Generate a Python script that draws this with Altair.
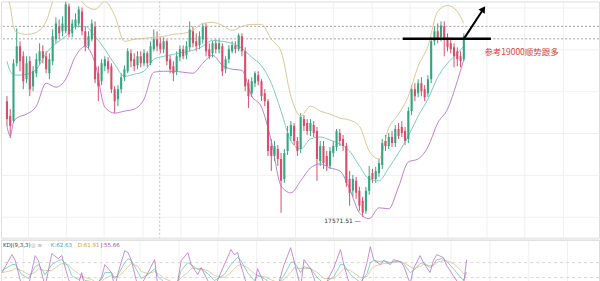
import altair as alt
import pandas as pd

# ---------------- data ----------------
open_ = [18500, 18380, 18340, 18804, 18940, 18860, 18676, 18820, 18620, 18724,
         18820, 18900, 18860, 18724, 18820, 18996, 19100, 19060, 19060, 19260,
         19044, 19100, 19124, 19220, 19060, 18940, 18996, 19100, 18724, 18660,
         18780, 18820, 18780, 18596, 18516, 18596, 18692, 18740, 18884, 18836,
         18788, 18860, 18804, 18884, 18804, 18916, 18996, 18964, 18916, 18980,
         18836, 18780, 18740, 18852, 18916, 18868, 18932, 19060, 18980, 18948,
         18996, 19100, 18916, 18884, 18964, 18916, 18940, 18756, 18836, 18900,
         18948, 18916, 19020, 18900, 18644, 18564, 18644, 18708, 18660, 18564,
         18500, 18140, 18060, 18116, 18036, 17876, 18100, 18220, 18300, 18180,
         18116, 18356, 18324, 18260, 18308, 18260, 18020, 18140, 18060, 17980,
         18084, 18132, 18244, 18196, 18140, 17876, 17780, 17860, 17780, 17700,
         17620, 17780, 17924, 17876, 17924, 17988, 18180, 18140, 18212, 18164,
         18276, 18292, 18260, 18196, 18420, 18596, 18564, 18644, 18596, 18564,
         18676, 18980, 19060, 19012, 19100, 19012, 18964, 18932, 18900, 18860,
         18836]
close = [18356, 18300, 18804, 18940, 18820, 18660, 18804, 18596, 18740, 18836,
         18900, 18844, 18756, 18836, 19020, 19124, 19044, 19124, 19276, 19036,
         19124, 19156, 19236, 19060, 18940, 19020, 19124, 18676, 18620, 18804,
         18836, 18756, 18596, 18500, 18596, 18692, 18756, 18900, 18820, 18780,
         18860, 18804, 18884, 18804, 18940, 18996, 18940, 18916, 18980, 18820,
         18756, 18724, 18860, 18916, 18860, 18940, 19076, 18964, 18940, 19020,
         19100, 18900, 18860, 18964, 18916, 18964, 18740, 18836, 18916, 18948,
         18916, 19028, 18900, 18620, 18540, 18660, 18724, 18660, 18540, 18500,
         18100, 18060, 18140, 18036, 17860, 18084, 18244, 18308, 18180, 18100,
         18372, 18300, 18260, 18324, 18244, 18036, 18140, 18004, 17980, 18100,
         18140, 18260, 18180, 18140, 17844, 17764, 17876, 17764, 17660, 17604,
         17780, 17900, 17876, 17940, 18004, 18164, 18140, 18212, 18164, 18276,
         18220, 18244, 18180, 18420, 18596, 18540, 18644, 18580, 18532, 18676,
         18980, 19060, 18996, 19108, 18996, 18932, 18916, 18860, 18836, 18820,
         19020]
high = [18540, 18436, 18836, 19084, 18980, 18900, 18860, 18860, 18780, 18884,
        18964, 18948, 18900, 18884, 19076, 19172, 19156, 19180, 19300, 19284,
        19156, 19204, 19260, 19252, 19100, 19060, 19156, 19140, 18780, 18836,
        18860, 18852, 18804, 18620, 18628, 18724, 18788, 18924, 18916, 18884,
        18900, 18900, 18916, 18900, 18980, 19076, 19060, 19012, 19012, 18996,
        18868, 18820, 18900, 18948, 18948, 18980, 19140, 19100, 19044, 19060,
        19124, 19124, 18964, 18980, 18996, 18996, 18964, 18860, 18948, 18980,
        18980, 19044, 19044, 18932, 18676, 18692, 18740, 18740, 18676, 18596,
        18516, 18196, 18180, 18148, 18084, 18116, 18300, 18340, 18324, 18212,
        18404, 18388, 18356, 18356, 18340, 18292, 18180, 18180, 18100, 18132,
        18180, 18276, 18276, 18228, 18164, 17940, 17908, 17892, 17812, 17732,
        17812, 17980, 17956, 17972, 18036, 18196, 18228, 18244, 18260, 18308,
        18324, 18340, 18292, 18452, 18628, 18644, 18676, 18692, 18628, 18708,
        19012, 19100, 19124, 19140, 19140, 19044, 19012, 18964, 18932, 18900,
        19044]
low = [18300, 18204, 18324, 18780, 18740, 18596, 18644, 18540, 18580, 18692,
       18788, 18804, 18724, 18676, 18788, 18964, 18996, 19020, 19044, 19012,
       19012, 19076, 19092, 19028, 18900, 18916, 18980, 18644, 18500, 18628,
       18740, 18724, 18564, 18404, 18460, 18564, 18660, 18724, 18772, 18740,
       18756, 18772, 18780, 18772, 18788, 18900, 18900, 18884, 18884, 18788,
       18724, 18660, 18708, 18820, 18836, 18836, 18900, 18932, 18900, 18916,
       18964, 18860, 18836, 18852, 18884, 18884, 18700, 18724, 18804, 18884,
       18884, 18900, 18860, 18580, 18444, 18532, 18612, 18628, 18500, 18460,
       18060, 17940, 18020, 17980, 17604, 17844, 18068, 18180, 18148, 18060,
       18084, 18260, 18228, 18220, 18212, 17860, 17980, 17956, 17940, 17956,
       18052, 18100, 18140, 18100, 17812, 17660, 17732, 17716, 17620, 17571.51,
       17596, 17748, 17844, 17844, 17892, 17956, 18100, 18116, 18132, 18132,
       18196, 18212, 18148, 18164, 18388, 18500, 18532, 18540, 18500, 18532,
       18644, 18948, 18964, 18980, 18860, 18900, 18884, 18772, 18780, 18772,
       18820]

band_idx = [0, 1, 2, 3, 6, 9, 12, 15, 18, 21, 24, 27, 30, 33, 36, 39, 42, 45, 48, 51,
            54, 57, 60, 63, 66, 69, 72, 75, 78, 81, 84, 87, 90, 93, 96, 99, 102, 105, 108, 111,
            114, 117, 120, 123, 126, 129, 132, 135, 138, 140]
band_upper = [19340, 19260, 19100, 19052, 19036, 19052, 19140, 19364, 19420, 19380,
              19268, 19236, 19300, 19188, 18980, 18996, 19004, 19012, 19020, 19036,
              19044, 19068, 19124, 19132, 19108, 19068, 19100, 19116, 19116, 18996,
              18900, 18540, 18380, 18460, 18420, 18396, 18364, 18348, 18300, 18100,
              18036, 18284, 18396, 18540, 18780, 18940, 19220, 19268, 19220, 19124]
band_mid = [18820, 18740, 18716, 18708, 18716, 18756, 18884, 18964, 19020, 19100,
            19100, 19020, 18916, 18796, 18700, 18716, 18740, 18836, 18860, 18876,
            18892, 18908, 18940, 18988, 18980, 18964, 18924, 18852, 18784, 18644,
            18420, 18180, 18116, 18196, 18212, 18188, 18156, 18100, 17980, 17876,
            17860, 17964, 18084, 18220, 18380, 18516, 18692, 18804, 18884, 18940]
band_lower = [18300, 18220, 18332, 18364, 18396, 18460, 18644, 18612, 18676, 18860,
              18940, 18804, 18452, 18404, 18420, 18436, 18516, 18732, 18740, 18740,
              18732, 18724, 18804, 18868, 18788, 18756, 18748, 18540, 18452, 18180,
              17820, 17764, 17860, 17964, 17996, 17964, 17940, 17796, 17604, 17556,
              17644, 17636, 17812, 18012, 18036, 18132, 18324, 18436, 18660, 18836]

kdj_idx = [0, 3, 4, 6, 8, 10, 11, 13, 15, 17, 18, 20, 21, 23, 24, 25, 27, 28, 30, 31,
           33, 34, 35, 37, 38, 39, 41, 42, 44, 46, 47, 49, 51, 53, 54, 56, 57, 59, 60, 62,
           64, 67, 69, 70, 71, 72, 74, 76, 77, 79, 81, 83, 85, 87, 88, 90, 91, 93, 95, 97,
           100, 102, 103, 105, 108, 110, 111, 112, 114, 115, 117, 118, 120, 121, 123, 124,
           126, 127, 129, 130, 131, 133, 134, 136, 138, 139, 140]
kdj_j = [40, 112, 88, -16, -12, 108, 88, -16, 116, 96,
         108, 16, -20, -8, 40, -20, 0, -20, 20, 72,
         40, -20, 40, 128, 120, 88, -20, -8, 40, 92,
         -20, -20, -12, 8, 88, 120, 72, 32, 60, 8,
         -20, 72, 132, 112, 120, 68, -20, -20, 56, -4,
         -20, -20, 72, 140, 88, -20, 92, 56, -20, -20,
         60, 132, 72, -20, -20, 80, 144, 92, 72, 88,
         72, 92, 84, 68, -4, 56, 108, 80, 40, 88,
         112, 100, 68, 28, -12, -20, 92]
kdj_k = [48, 72, 72, 32, 16, 64, 72, 32, 72, 88,
         92, 64, 28, 12, 24, 8, 4, -4, 12, 40,
         40, 16, 32, 80, 96, 88, 40, 16, 32, 56,
         24, 0, -4, 4, 48, 80, 72, 52, 56, 36,
         8, 32, 72, 88, 100, 88, 40, 8, 28, 16,
         -4, -8, 28, 80, 84, 40, 64, 56, 20, -4,
         24, 72, 72, 32, 0, 36, 80, 88, 84, 88,
         80, 84, 84, 76, 40, 48, 76, 80, 60, 72,
         92, 96, 84, 56, 24, 8, 40]
kdj_d = [40, 48, 56, 48, 32, 40, 56, 48, 48, 68,
         76, 72, 56, 36, 28, 20, 12, 4, 4, 16,
         28, 24, 24, 48, 64, 76, 64, 44, 36, 44,
         36, 16, 4, 4, 20, 40, 56, 56, 56, 48,
         28, 20, 40, 56, 68, 72, 60, 36, 28, 24,
         12, 0, 12, 40, 60, 56, 56, 56, 40, 16,
         16, 40, 56, 48, 20, 24, 48, 64, 72, 76,
         80, 80, 84, 80, 64, 56, 64, 72, 68, 68,
         80, 88, 88, 76, 52, 36, 40]

kdj_title = "KDJ(9,3,3)"
kdj_names = ["K", "D", "J"]
kdj_last = [62.63, 61.91, 55.66]
kdj_levels = [80, 20]
low_bar = 109
low_value = 17571.51
dash_levels = [19100, 19000]
ref_level = 19000
ref_seg_idx = [121.3, 148.3]
arrow_idx = [140.0, 146.0]
arrow_price = [19000, 19240]
divider_idx = [46.8]
note = "参考19000顺势跟多"

# ---------------- style ----------------
GREEN = "#34a57f"
RED = "#d4506a"
TAN = "#d8c08c"
TEAL = "#6cc6b9"
PURPLE = "#b772cb"
GRID = "#f0f0f0"

x_grid = [6.3, 18.0, 29.7, 41.4, 53.2, 64.9, 76.6, 88.3, 100.0, 111.7, 123.4, 135.1,
          146.8, 158.6, 170.3]
y_grid = [19252, 19084, 18916, 18748, 18580, 18412, 18244, 18076, 17908, 17740, 17572]

xs = alt.Scale(domain=[-0.3, 179.9], nice=False, zero=False)
ys = alt.Scale(domain=[17404, 19300], nice=False, zero=False)
ks = alt.Scale(domain=[-4, 172], nice=False, zero=False)


def gaxis(values, orient, domain=False):
    return alt.Axis(values=values, orient=orient, labels=False, ticks=False,
                    domain=domain, domainColor="#dddddd", title=None, grid=True,
                    gridColor=GRID, gridWidth=1, minExtent=0)


cdf = pd.DataFrame({"idx": list(range(len(close))), "open": open_, "high": high,
                    "low": low, "close": close})
updown = alt.condition("datum.close >= datum.open", alt.value(GREEN), alt.value(RED))

base_c = alt.Chart(cdf)
wick = base_c.mark_rule(strokeWidth=1, clip=True).encode(
    x=alt.X("idx:Q", scale=xs, axis=gaxis(x_grid, "bottom")),
    y=alt.Y("low:Q", scale=ys, axis=gaxis(y_grid, "left")),
    y2="high:Q",
    color=updown,
)
body = base_c.mark_bar(size=2.1, clip=True).encode(
    x=alt.X("idx:Q", scale=xs),
    y=alt.Y("open:Q", scale=ys),
    y2="close:Q",
    color=updown,
)

bdf = pd.DataFrame({"idx": band_idx, "upper": band_upper, "mid": band_mid, "lower": band_lower})
bands = [
    alt.Chart(bdf).mark_line(color=c, strokeWidth=0.9, clip=True, interpolate="monotone").encode(
        x=alt.X("idx:Q", scale=xs), y=alt.Y(f"{f}:Q", scale=ys))
    for f, c in [("upper", TAN), ("mid", TEAL), ("lower", PURPLE)]
]

dashes = alt.Chart(pd.DataFrame({"p": dash_levels})).mark_rule(
    color="#8a8a8a", strokeDash=[2, 2], strokeWidth=0.8).encode(y=alt.Y("p:Q", scale=ys))
divider = alt.Chart(pd.DataFrame({"v": divider_idx})).mark_rule(
    color="#c4c4c4", strokeDash=[2, 2], strokeWidth=1).encode(x=alt.X("v:Q", scale=xs))

ref = alt.Chart(pd.DataFrame({"idx": ref_seg_idx, "p": [ref_level] * len(ref_seg_idx)})).mark_line(
    color="black", strokeWidth=2.5).encode(x=alt.X("idx:Q", scale=xs), y=alt.Y("p:Q", scale=ys))
adf = pd.DataFrame({"idx": arrow_idx, "p": arrow_price})
arrow = alt.Chart(adf).mark_line(color="black", strokeWidth=2).encode(
    x=alt.X("idx:Q", scale=xs), y=alt.Y("p:Q", scale=ys))
head = alt.Chart(adf.tail(1)).mark_point(shape="triangle-up", filled=True, size=55, angle=34,
                                         color="black", opacity=1).encode(
    x=alt.X("idx:Q", scale=xs), y=alt.Y("p:Q", scale=ys))

lowtxt = alt.Chart(pd.DataFrame({"idx": [low_bar], "p": [low_value],
                                 "t": [f"{low_value:.2f} —"]})).mark_text(
    align="right", baseline="middle", dx=-2, dy=4, fontSize=6, color="#333333",
    font="DejaVu Sans").encode(x=alt.X("idx:Q", scale=xs), y=alt.Y("p:Q", scale=ys), text="t:N")

note_txt = alt.Chart(pd.DataFrame({"t": [note]})).mark_text(
    align="left", baseline="middle", fontSize=8.5, color="#d8453c",
    font="Noto Sans CJK SC").encode(text="t:N", x=alt.value(485), y=alt.value(51))

main = alt.layer(wick, dashes, divider, *bands, body, ref, arrow, head, lowtxt, note_txt).properties(
    width=600, height=237)

# ---------------- KDJ panel ----------------
kdf = pd.DataFrame({"idx": kdj_idx, "K": kdj_k, "D": kdj_d, "J": kdj_j})
klevels = alt.Chart(pd.DataFrame({"v": kdj_levels})).mark_rule(
    color="#cccccc", strokeDash=[3, 3], strokeWidth=0.8).encode(y=alt.Y("v:Q", scale=ks, axis=None))
kframe = alt.Chart(kdf).mark_line(color=TAN, strokeWidth=0.8, clip=True).encode(
    x=alt.X("idx:Q", scale=xs, axis=gaxis(x_grid, "top", domain=True)),
    y=alt.Y("D:Q", scale=ks, axis=None))
kline = alt.Chart(kdf).mark_line(color=TEAL, strokeWidth=0.8, clip=True).encode(
    x=alt.X("idx:Q", scale=xs), y=alt.Y("K:Q", scale=ks))
jline = alt.Chart(kdf).mark_line(color=PURPLE, strokeWidth=0.8, clip=True).encode(
    x=alt.X("idx:Q", scale=xs), y=alt.Y("J:Q", scale=ks))

ktexts = [alt.Chart(pd.DataFrame({"t": [kdj_title]})).mark_text(
    align="left", baseline="middle", fontSize=5.5, color="#444444", font="DejaVu Sans").encode(
    text="t:N", x=alt.value(2), y=alt.value(5))]
ktexts.append(alt.Chart(pd.DataFrame({"t": ["◎ ≡"]})).mark_text(
    align="left", baseline="middle", fontSize=5.5, color="#aaaaaa", font="DejaVu Sans").encode(
    text="t:N", x=alt.value(30), y=alt.value(5)))
for name, val, col, xp in zip(kdj_names, kdj_last, ["#3aa7b5", "#c9a34a", "#a04dbb"], [50, 77, 100]):
    ktexts.append(alt.Chart(pd.DataFrame({"t": [f"{name}:{val:.2f}"]})).mark_text(
        align="left", baseline="middle", fontSize=5.5, color=col, font="DejaVu Sans").encode(
        text="t:N", x=alt.value(xp), y=alt.value(5)))

kdj = alt.layer(kframe, klevels, kline, jline, *ktexts).properties(width=600, height=44)

chart = alt.vconcat(main, kdj, spacing=0).properties(padding=0).configure_view(
    stroke=None).configure(background="white")

chart.save("out.html", embed_options={"renderer": "svg", "actions": False})
